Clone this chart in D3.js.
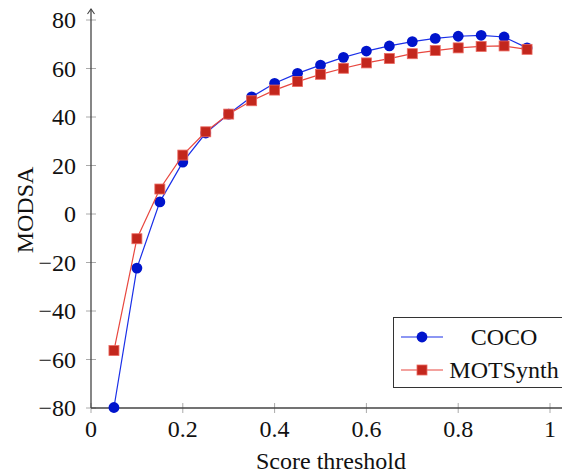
<!DOCTYPE html>
<html>
<head>
<meta charset="utf-8">
<script src="https://cdn.jsdelivr.net/npm/d3@7"></script>
<style>
  body { margin: 0; background: #fff; }
</style>
</head>
<body>
<div id="chart"></div>
<script>
// score thresholds and MODSA values
const thresholds = [0.05, 0.1, 0.15, 0.2, 0.25, 0.3, 0.35, 0.4, 0.45, 0.5,
                    0.55, 0.6, 0.65, 0.7, 0.75, 0.8, 0.85, 0.9, 0.95];
const cocoValues = [-79.8, -22.3, 5.0, 21.4, 33.4, 41.2, 48.3, 53.9, 58.0, 61.4,
                    64.6, 67.2, 69.3, 71.1, 72.4, 73.3, 73.7, 73.0, 68.5];
const motsynthValues = [-56.3, -10.2, 10.3, 24.3, 33.9, 41.2, 46.7, 51.1, 54.6, 57.6,
                        60.1, 62.3, 64.1, 66.1, 67.4, 68.5, 69.1, 69.3, 67.9];
const xTicks = [0, 0.2, 0.4, 0.6, 0.8, 1];
const yTicks = [-80, -60, -40, -20, 0, 20, 40, 60, 80];
const seriesNames = ["COCO", "MOTSynth"];

const FONT = "'Liberation Serif'";
const FS = 24;
const W = 562, H = 474;
const svg = d3.select("#chart").append("svg")
    .attr("width", W).attr("height", H);

const x = d3.scaleLinear().domain([0, 1]).range([91, 550]);
const y = d3.scaleLinear().domain([-80, 80]).range([408, 20]);

// ticks (drawn across the axis lines)
svg.append("g").selectAll("line").data(yTicks).join("line")
    .attr("x1", x(0) - 5).attr("x2", x(0) + 5)
    .attr("y1", d => y(d)).attr("y2", d => y(d))
    .attr("stroke", "#aaa").attr("stroke-width", 1);
svg.append("g").selectAll("line").data(xTicks).join("line")
    .attr("x1", d => x(d)).attr("x2", d => x(d))
    .attr("y1", y(-80) - 5).attr("y2", y(-80) + 5)
    .attr("stroke", "#aaa").attr("stroke-width", 1);

// axis lines
svg.append("line")
    .attr("x1", x(0)).attr("x2", W)
    .attr("y1", y(-80)).attr("y2", y(-80))
    .attr("stroke", "#444").attr("stroke-width", 1.3);
svg.append("line")
    .attr("x1", x(0)).attr("x2", x(0))
    .attr("y1", y(-80)).attr("y2", 9)
    .attr("stroke", "#444").attr("stroke-width", 1.3);
svg.append("path")
    .attr("d", `M${x(0) - 3.5},${14} L${x(0)},${9} L${x(0) + 3.5},${14}`)
    .attr("fill", "none").attr("stroke", "#444").attr("stroke-width", 1.1);

// tick labels
svg.append("g").selectAll("text").data(yTicks).join("text")
    .attr("x", x(0) - 15).attr("y", d => y(d) + 8)
    .attr("text-anchor", "end")
    .style("font-family", FONT).style("font-size", FS + "px").attr("fill", "#111")
    .text(d => d < 0 ? "\u2212" + Math.abs(d) : d);
svg.append("g").selectAll("text").data(xTicks).join("text")
    .attr("x", d => x(d)).attr("y", 437)
    .attr("text-anchor", "middle")
    .style("font-family", FONT).style("font-size", FS + "px").attr("fill", "#111")
    .text(d => d);

// axis labels
svg.append("text")
    .attr("x", 331).attr("y", 469)
    .attr("text-anchor", "middle")
    .style("font-family", FONT).style("font-size", FS + "px").attr("fill", "#111")
    .text("Score threshold");
svg.append("text")
    .attr("transform", `translate(33,${210}) rotate(-90)`)
    .attr("text-anchor", "middle")
    .style("font-family", FONT).style("font-size", FS + "px").attr("fill", "#111")
    .text("MODSA");

const line = d3.line()
    .x(d => x(d[0]))
    .y(d => y(d[1]));

const cocoData = thresholds.map((t, i) => [t, cocoValues[i]]);
const motData = thresholds.map((t, i) => [t, motsynthValues[i]]);

// COCO series
svg.append("path").datum(cocoData)
    .attr("fill", "none").attr("stroke", "#1a2fe8").attr("stroke-width", 1.2)
    .attr("d", line);
svg.append("g").selectAll("circle").data(cocoData).join("circle")
    .attr("cx", d => x(d[0])).attr("cy", d => y(d[1]))
    .attr("r", 5.4).attr("fill", "#0014cc");

// MOTSynth series
svg.append("path").datum(motData)
    .attr("fill", "none").attr("stroke", "#e8473f").attr("stroke-width", 1.2)
    .attr("d", line);
svg.append("g").selectAll("rect").data(motData).join("rect")
    .attr("x", d => x(d[0]) - 5).attr("y", d => y(d[1]) - 5)
    .attr("width", 10).attr("height", 10)
    .attr("fill", "#c3271d").attr("stroke", "#ec6a62").attr("stroke-width", 0.8);

// legend
const leg = svg.append("g");
leg.append("rect")
    .attr("x", 393.5).attr("y", 317.5).attr("width", 200).attr("height", 70)
    .attr("fill", "#fff").attr("stroke", "#333").attr("stroke-width", 1);
leg.append("line").attr("x1", 401).attr("x2", 443).attr("y1", 337).attr("y2", 337)
    .attr("stroke", "#1a2fe8").attr("stroke-width", 1.2);
leg.append("circle").attr("cx", 422).attr("cy", 337).attr("r", 5.4).attr("fill", "#0014cc");
leg.append("line").attr("x1", 401).attr("x2", 443).attr("y1", 370).attr("y2", 370)
    .attr("stroke", "#e8473f").attr("stroke-width", 1.2);
leg.append("rect").attr("x", 417).attr("y", 365).attr("width", 10).attr("height", 10)
    .attr("fill", "#c3271d").attr("stroke", "#ec6a62").attr("stroke-width", 0.8);
leg.selectAll("text").data(seriesNames).join("text")
    .attr("x", 504).attr("y", (d, i) => 345 + i * 33)
    .attr("text-anchor", "middle")
    .style("font-family", FONT).style("font-size", FS + "px").attr("fill", "#111")
    .text(d => d);
</script>
</body>
</html>
